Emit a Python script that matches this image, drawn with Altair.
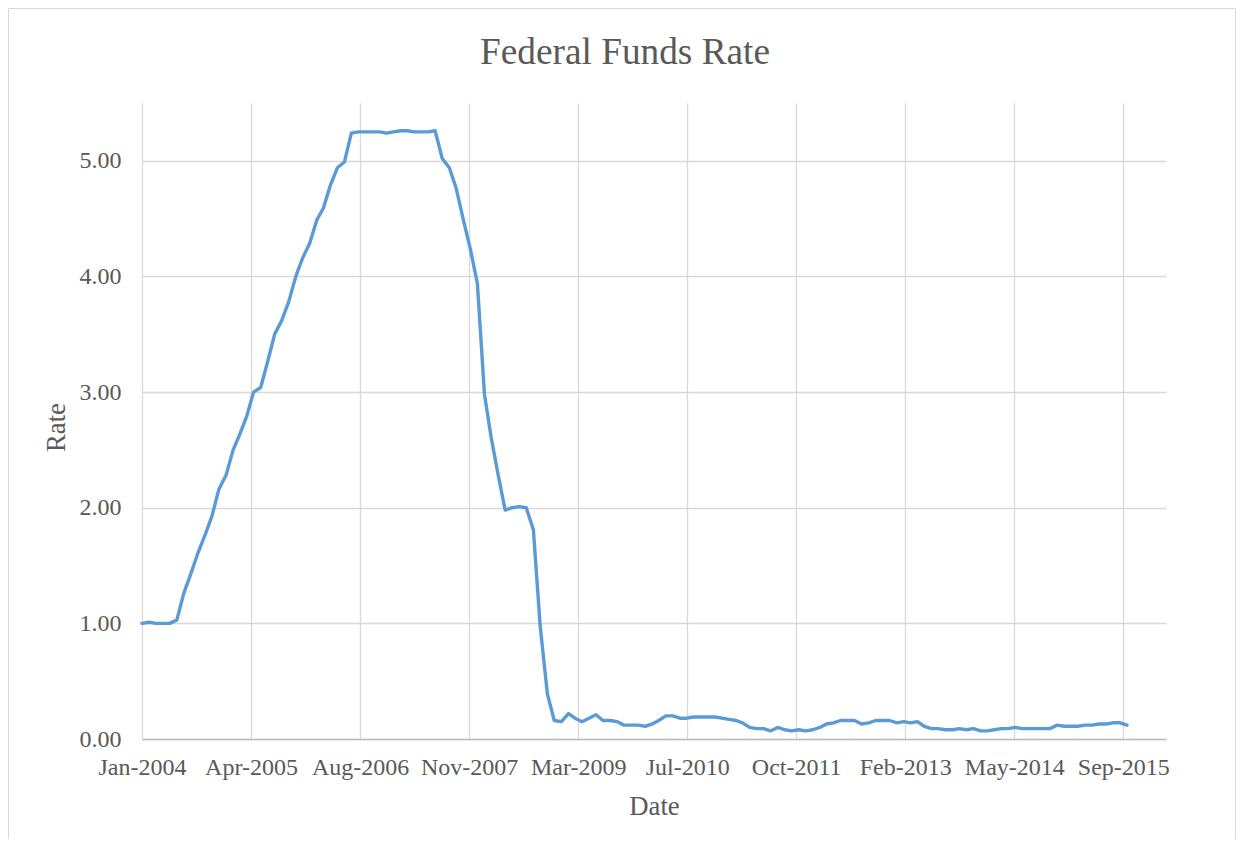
import altair as alt
import pandas as pd

# Monthly effective federal funds rate, Jan-2004 .. Oct-2015
start_month = "2004-01-01"
rates = [
    1.00, 1.01, 1.00, 1.00, 1.00, 1.03, 1.26, 1.43, 1.61, 1.76, 1.93, 2.16,  # 2004
    2.28, 2.50, 2.63, 2.79, 3.00, 3.04, 3.26, 3.50, 3.62, 3.78, 4.00, 4.16,  # 2005
    4.29, 4.49, 4.59, 4.79, 4.94, 4.99, 5.24, 5.25, 5.25, 5.25, 5.25, 5.24,  # 2006
    5.25, 5.26, 5.26, 5.25, 5.25, 5.25, 5.26, 5.02, 4.94, 4.76, 4.49, 4.24,  # 2007
    3.94, 2.98, 2.61, 2.28, 1.98, 2.00, 2.01, 2.00, 1.81, 0.97, 0.39, 0.16,  # 2008
    0.15, 0.22, 0.18, 0.15, 0.18, 0.21, 0.16, 0.16, 0.15, 0.12, 0.12, 0.12,  # 2009
    0.11, 0.13, 0.16, 0.20, 0.20, 0.18, 0.18, 0.19, 0.19, 0.19, 0.19, 0.18,  # 2010
    0.17, 0.16, 0.14, 0.10, 0.09, 0.09, 0.07, 0.10, 0.08, 0.07, 0.08, 0.07,  # 2011
    0.08, 0.10, 0.13, 0.14, 0.16, 0.16, 0.16, 0.13, 0.14, 0.16, 0.16, 0.16,  # 2012
    0.14, 0.15, 0.14, 0.15, 0.11, 0.09, 0.09, 0.08, 0.08, 0.09, 0.08, 0.09,  # 2013
    0.07, 0.07, 0.08, 0.09, 0.09, 0.10, 0.09, 0.09, 0.09, 0.09, 0.09, 0.12,  # 2014
    0.11, 0.11, 0.11, 0.12, 0.12, 0.13, 0.13, 0.14, 0.14, 0.12,              # 2015
]

# Date-axis tick positions (Excel date axis, labels shown as Mon-YYYY)
x_ticks = ["2004-01-01", "2005-04-20", "2006-08-08", "2007-11-26", "2009-03-15",
           "2010-07-03", "2011-10-21", "2013-02-07", "2014-05-28", "2015-09-15"]
x_domain = ["2004-01-01", "2016-03-19"]
y_ticks = [0, 1, 2, 3, 4, 5]
y_domain = [0, 5.5]

dates = pd.date_range(start_month, periods=len(rates), freq="MS").strftime("%Y-%m-%d")
df = pd.DataFrame({"date": dates, "rate": rates})


def dt(s):
    y, m, d = (int(p) for p in s.split("-"))
    return alt.DateTime(year=y, month=m, date=d, utc=True)


FONT = "Liberation Serif"
TXT = "#595959"
GRID = "#d9d9d9"

W, H = 1024, 636
PAD_L, PAD_T = 134, 95
PAD_R = 1228 - PAD_L - W
PAD_B = 831 - PAD_T - H

common_axis = dict(
    labelFont=FONT,
    labelFontSize=24,
    labelColor=TXT,
    titleFont=FONT,
    titleFontSize=26.7,
    titleFontWeight="normal",
    titleColor=TXT,
    grid=True,
    gridColor=GRID,
    gridWidth=1.3,
    ticks=False,
    tickSize=0,
    labelOverlap=False,
)

line = alt.Chart(df).mark_line(
    color="#5b9bd5", strokeWidth=3.4, strokeJoin="round", strokeCap="round"
).encode(
    x=alt.X(
        "date:T",
        title="Date",
        scale=alt.Scale(type="utc", domain=[dt(s) for s in x_domain]),
        axis=alt.Axis(
            values=[dt(s) for s in x_ticks],
            labelExpr="utcFormat(datum.value, '%b-%Y')",
            domain=True,
            domainColor="#bfbfbf",
            domainWidth=1.3,
            labelPadding=16,
            labelFlush=False,
            labelBound=False,
            titleY=75,
            titleBaseline="alphabetic",
            **common_axis,
        ),
    ),
    y=alt.Y(
        "rate:Q",
        title="Rate",
        scale=alt.Scale(domain=y_domain, nice=False, zero=True),
        axis=alt.Axis(
            values=y_ticks,
            format=".2f",
            domain=False,
            labelPadding=21,
            titleX=-78,
            titleY=324,
            titleAngle=270,
            titleAlign="center",
            titleBaseline="alphabetic",
            **common_axis,
        ),
    ),
)

border = alt.Chart(pd.DataFrame({"k": [0]})).mark_rect(
    filled=False, stroke=GRID, strokeWidth=1
).encode(
    x=alt.value(-PAD_L + 0.5),
    x2=alt.value(W + PAD_R - 0.5),
    y=alt.value(-PAD_T + 0.5),
    y2=alt.value(H + PAD_B + 50),
)

chart = alt.layer(border, line).properties(
    width=W,
    height=H,
    padding={"left": PAD_L, "top": PAD_T, "right": PAD_R, "bottom": PAD_B},
    autosize=alt.AutoSizeParams(type="none"),
    title=alt.TitleParams(
        text="Federal Funds Rate",
        font=FONT,
        fontSize=37.3,
        fontWeight="normal",
        color=TXT,
        anchor="middle",
        baseline="alphabetic",
        dx=-29,
        offset=-93.5,
    ),
).configure_view(
    strokeWidth=0
)

chart.save("out.html", embed_options={"renderer": "svg", "actions": False})
